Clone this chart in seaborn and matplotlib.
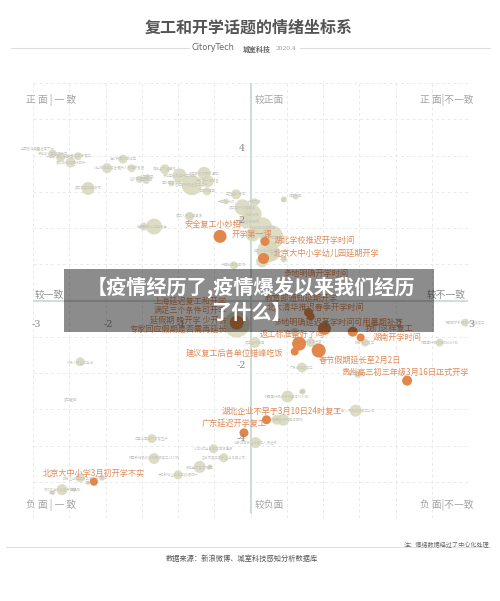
import pandas as pd
import matplotlib.pyplot as plt
from matplotlib.patches import Rectangle
import seaborn as sns

# Neutral topics (grey bubbles)
grey_x = [-2.93, -2.73, -2.62, -2.48, -2.38, -1.76, -1.98, -1.64, -1.18, -0.98, -0.64, -1.53, -1.44, -1.42,
          -1.09, -0.81, -2.24, -0.59, -0.60, -0.20, -0.34, -1.33, -1.47, -0.84, -0.23, -2.35, -2.48, -1.36,
          -1.33, -0.70, -0.56, -1.00, -0.51, -0.37, -2.35, -2.05, -2.60, -2.73, -2.44, -2.24, 0.07, 0.51,
          0.72, 1.45, 0.45, 0.36, 2.96, 2.61, 1.58, 0.06, 0.83, 0.71, 1.48, 0.61, -0.19,
          -0.11, 0.06, -0.06, 0.03, 0.16, 0.24, 0.29, 0.46, 0.32, 0.46, 0.62, 0.03, 0.16]
grey_y = [4.17, 4.06, 3.95, 3.81, 3.98, 3.90, 3.65, 3.65, 3.62, 3.45, 3.51, 3.34, 3.31, 3.40,
          3.23, 3.18, 3.09, 3.29, 3.01, 2.93, 2.73, 2.04, 2.04, 2.32, 0.97, -1.69, -2.73, -3.81,
          -4.36, -4.59, -4.59, -4.81, -4.09, -4.34, -4.89, -4.89, -5.22, -5.30, -5.22, -5.03, -3.92, -2.65,
          -2.51, -3.04, -3.29, -3.29, -0.61, -1.16, -1.16, -1.16, -1.16, -1.85, -2.04, -0.88, -0.66,
          2.57, 2.71, 2.18, 2.38, 2.02, 1.35, 1.74, 2.79, 1.27, 1.13, 2.87, 1.82, 1.08]
grey_r = [2, 4, 4.5, 5, 4, 4.5, 5, 4, 5, 7, 6.5, 3.5, 3.5, 3,
          3, 10, 6.5, 6, 4, 5, 3, 8, 4, 4.5, 4, 4.5, 1.5, 4.5,
          5.5, 6, 2.5, 4.5, 4.5, 4.5, 4.5, 3, 5.5, 2.5, 2, 2, 5.5, 6,
          3, 6, 6, 5, 4, 4, 4, 5.5, 4.5, 5, 3.5, 4.5, 13,
          8, 4, 7, 9, 10, 11, 12, 3, 6, 3, 3, 7, 6]
# Tiny labels, only barely legible in the picture
grey_labels = ['全国各地复工进度不一', '多地中小学延期开学', '开学时间暂未确定', '复工后如何做好防护', '企业陆续有序复工',
               '高校开学时间待定', '线上教学持续进行', '返岗人员健康管理', '错峰上下班通知', '多地学校制定开学方案',
               '教育部发布最新通知', '返校学生须知', '复学方案', '延期开学', '学校防疫指南', '各地有序推进复工复产',
               '复工防疫指南发布', '开学第一课准备', '停课不停学', '学生返校安排', '开学倒计时', '居家办公经验分享',
               '在家办公', '复工人员注意事项', '开学前准备工作', '外来人员返工登记', '复工证明', '三星中国工厂恢复生产',
               '韩国新增确诊病例影响复工1337例', '多地宣布复工补贴', '复工', '大陆新增企业复工数据统计', '21日0时全省复工情况通报',
               '各省市复工复产企业名单公布', '部分企业延期复工通知', '工厂复工', '武汉各高校暂缓开学通知',
               '停工', '停学', '工资', '北京过百家企业复工人员进京', '韩国累计确诊病例超过3526例',
               '疫情', '境外输入病例增加停工公告', '韩国新增确诊病例超过百例', '复产', '韩国首尔新增病例暂缓复工',
               '韩国累计确诊病例8445例', '部分地区复工', '复工返岗指南', '多省份复工进度', '广东省延迟复工',
               '高三学生返校', '部分学校复学', '多地复学',
               '复工复产政策解读', '开学时间', '全国复工复产情况', '开学安排', '多地开学时间确定', '延迟开学家长建议',
               '学校开学通知', '返校', '网课', '复学', '何时开学', '复工', '开学']

# Highlighted topics (orange bubbles)
hot_x = [-0.42, 0.20, 0.18, -0.19, 0.67, 0.94, 0.61, 1.02, 0.80, 0.83, 1.41, 1.52, 2.16, -0.09, 0.22, -2.16]
hot_y = [1.77, 1.63, 1.16, -0.61, -1.19, -1.38, -1.41, -0.77, -0.33, -0.44, -0.86, -1.02, -2.21, -3.65, -3.29, -5.00]
hot_r = [6.5, 4.5, 5.5, 7, 7, 7, 4, 6.5, 4.5, 4, 5, 4, 5, 4.5, 4.5, 4]

hot_labels = ['安全复工小妙招', '开学第一课', '湖北学校推迟开学时间', '北京大中小学幼儿园延期开学', '多地明确开学时间',
              '上海延迟复工和开学', '满足三个条件可开学', '延假期 晚开学 少开会', '专家回应假期是否需再延长',
              '教育部通知延期开学', '北大清华推迟春季开学时间', '多地明确延迟开学时间可用暑期补齐', '我们这样复工',
              '返工标准备好了吗', '湖南开学时间', '建议复工后各单位错峰吃饭', '春节假期延长至2月2日',
              '贵州高三初三年级3月16日正式开学', '湖北企业不早于3月10日24时复工', '广东延迟开学复工',
              '北京大中小学3月初开学不实']

x_ticks = [-3, -2, -1, 1, 2, 3]
y_ticks = [4, 2, -2, -4]

df_grey = pd.DataFrame({'x': grey_x, 'y': grey_y, 'size': [(r * 1.44) ** 2 for r in grey_r]})
df_hot = pd.DataFrame({'x': hot_x, 'y': hot_y, 'size': [(r * 1.44) ** 2 for r in hot_r]})

sns.set_theme(style='white')
plt.rcParams['font.family'] = ['Noto Sans CJK SC', 'DejaVu Sans']
plt.rcParams['axes.unicode_minus'] = False

W, H = 500, 601
fig = plt.figure(figsize=(W / 100, H / 100), dpi=100, facecolor='white')


def put(px, py, s, size, color, ha='left', **kw):
    # place text by reference pixel position
    return fig.text(px / W, 1 - py / H, s, fontsize=size, color=color, ha=ha, va='center', **kw)


def hline(x0, x1, py, color='#dcdfde', lw=0.8):
    fig.add_artist(plt.Line2D([x0 / W, x1 / W], [1 - py / H] * 2, color=color, lw=lw))


ax = fig.add_axes([33 / W, 1 - 518 / H, 435 / W, 435 / H])
ax.set_xlim(-3, 3)
ax.set_ylim(-6, 6)
ax.set_xticks([i * 0.5 for i in range(-6, 7)])
ax.set_yticks(range(-6, 7))
ax.grid(True, color='#e6ebe9', lw=0.7, ls=(0, (3, 3)))
ax.set_axisbelow(True)
ax.tick_params(left=False, bottom=False, labelleft=False, labelbottom=False)
sns.despine(ax=ax, left=True, bottom=True, right=True, top=True)
ax.plot([0, 0], [-5.85, 6], color='#cfdcd8', lw=1.5, zorder=1)
ax.plot([-3, 3], [0, 0], color='#d3ddd9', lw=1.5, zorder=1)

sns.scatterplot(data=df_grey, x='x', y='y', s=df_grey['size'], color='#d8d8ba', alpha=0.85,
                linewidth=0, legend=False, ax=ax, zorder=2)
sns.scatterplot(data=df_hot, x='x', y='y', s=df_hot['size'], color='#e2874c',
                linewidth=0, legend=False, ax=ax, zorder=3)
ax.set_xlabel('')
ax.set_ylabel('')

for gx, gy, name in zip(grey_x, grey_y, grey_labels):
    ax.text(gx, gy, name, fontsize=2.4, color='#c6c6c2', ha='center', va='center', zorder=2.5)

# Header
put(248.5, 28, '复工和开学话题的情绪坐标系', 11.5, '#555555', ha='center', fontweight='bold')
hline(11, 189, 48)
hline(300, 490, 48)
put(191, 48, 'CitoryTech', 5.9, '#666666', family='DejaVu Sans')
put(243, 49, '城室科技', 5, '#666666', fontweight='bold')
put(276, 49, '2020.4', 4.2, '#999999', family='DejaVu Serif')

# Quadrant names
quad_color = '#a3a3a3'
put(26, 100, '正 面 | 一 致', 7, quad_color)
put(255, 100, '较正面', 7, quad_color)
put(420, 100, '正 面|不一致', 7, quad_color)
put(35, 295, '较一致', 7, '#8f8f8f')
put(427, 295, '较不一致', 7, '#8f8f8f')
put(26, 505, '负 面 | 一 致', 7, quad_color)
put(255, 505, '较负面', 7, quad_color)
put(420, 505, '负 面|不一致', 7, quad_color)

# Tick numbers sit beside the axes, not on the frame
for t in x_ticks:
    ax.text(t + 0.04, -0.66, str(t), fontsize=7, color='#8a8a8a', ha='center', va='center',
            family='DejaVu Serif', zorder=4)
for t in y_ticks:
    ax.text(-0.12, t + 0.2, str(t), fontsize=7, color='#8a8a8a', ha='center', va='center',
            family='DejaVu Serif', zorder=4)

# Orange labels: left edge or right edge in reference pixels
orange = '#e08a58'
label_pos = [(184, 224, 'left'), (232, 234, 'left'), (274, 240, 'left'), (274, 253, 'left'), (283, 273, 'left'),
             (227, 301, 'right'), (227, 310, 'right'), (227, 320, 'right'), (227, 329, 'right'),
             (265, 298, 'left'), (267, 307, 'left'), (273, 322, 'left'), (365, 328, 'left'),
             (260, 334, 'left'), (373, 337, 'left'), (186, 353, 'left'), (319, 360, 'left'),
             (342, 372, 'left'), (222, 411, 'left'), (202, 423, 'left'), (43, 473, 'left')]
for (px, py, side), name in zip(label_pos, hot_labels):
    put(px, py, name, 5.9, orange, ha=side, fontweight='medium')

# Footer
hline(6, 490, 547)
put(489, 545, '注：情绪数据经过了中心化处理', 4.4, '#666666', ha='right', fontweight='medium')
put(166, 559, '数据来源：新浪微博、城室科技感知分析数据库', 5.2, '#555555', fontweight='medium')

# Headline band over the chart
fig.add_artist(Rectangle((64 / W, 1 - 332 / H), 370 / W, 63 / H, transform=fig.transFigure,
                         facecolor='black', alpha=0.45, edgecolor='none', zorder=5))
put(251, 287, '【疫情经历了,疫情爆发以来我们经历', 14.5, 'white', ha='center', fontweight='bold', zorder=6)
put(251, 312, '了什么】', 14.5, 'white', ha='center', fontweight='bold', zorder=6)

fig.savefig('out.png', dpi=100)
